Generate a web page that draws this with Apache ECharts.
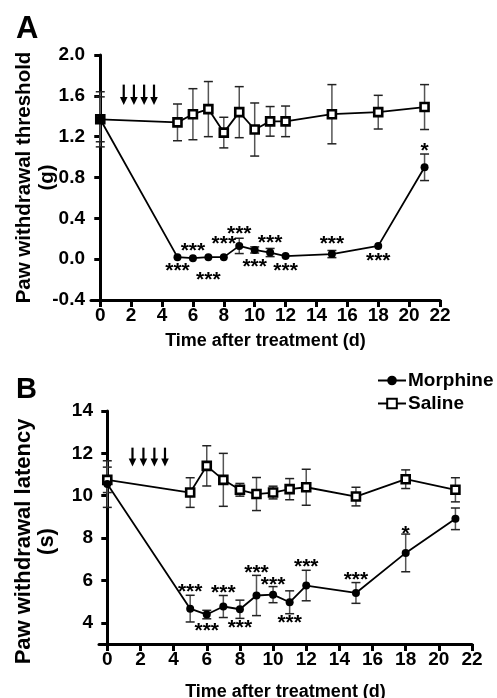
<!DOCTYPE html>
<html>
<head>
<meta charset="utf-8">
<script src="https://cdn.jsdelivr.net/npm/echarts@6/dist/echarts.min.js"></script>
<style>
html,body{margin:0;padding:0;background:#fff;}
#chart{width:497px;height:698px;}
</style>
</head>
<body>
<div id="chart"></div>
<script>
// ---------- data ----------
const days = [0, 5, 6, 7, 8, 9, 10, 11, 12, 15, 18, 21];
const xTicks = [0, 2, 4, 6, 8, 10, 12, 14, 16, 18, 20, 22];

// Panel A: paw withdrawal threshold (g)
const salineA = [1.37, 1.34, 1.42, 1.47, 1.24, 1.44, 1.27, 1.35, 1.35, 1.42, 1.44, 1.49];
const salineAErr = [0.27, 0.18, 0.25, 0.27, 0.15, 0.25, 0.26, 0.145, 0.15, 0.29, 0.165, 0.22];
const morphineA = [1.37, 0.02, 0.01, 0.02, 0.02, 0.13, 0.09, 0.065, 0.03, 0.05, 0.13, 0.90];
const morphineAErr = [0.22, 0, 0, 0, 0, 0.075, 0.03, 0.04, 0, 0.035, 0, 0.13];

// Panel A significance marks (day, text, value where the mark sits)
const starDaysA = [5, 6, 7, 8, 9, 10, 11, 12, 15, 18, 21];
const starTextA = ['***', '***', '***', '***', '***', '***', '***', '***', '***', '***', '*'];
const starValA = [-0.075, 0.12, -0.17, 0.19, 0.28, -0.04, 0.20, -0.075, 0.19, 0.02, 1.10];

// Panel B: paw withdrawal latency (s)
const salineB = [10.75, 10.15, 11.41, 10.75, 10.28, 10.08, 10.15, 10.31, 10.40, 9.96, 10.78, 10.28];
const salineBErr = [0.6, 0.7, 0.95, 1.25, 0.3, 0.78, 0.3, 0.5, 0.85, 0.44, 0.44, 0.57];
const morphineB = [10.55, 4.67, 4.39, 4.77, 4.64, 5.29, 5.33, 4.97, 5.76, 5.41, 7.30, 8.91];
const morphineBErr = [1.1, 0.63, 0.2, 0.52, 0.43, 0.95, 0.38, 0.54, 0.72, 0.49, 0.89, 0.51];
const yTicksB = [4, 6, 8, 10, 12, 14];

const starDaysB = [5, 6, 7, 8, 9, 10, 11, 12, 15, 18];
const starTextB = ['***', '***', '***', '***', '***', '***', '***', '***', '***', '*'];
const starValB = [5.65, 3.77, 5.57, 3.92, 6.51, 5.96, 4.16, 6.83, 6.2, 8.39];

// injection arrows (day positions, top value, tip value)
const arrowDays = [1.52, 2.18, 2.84, 3.48];
const arrowA = [1.71, 1.51];
const arrowB = [12.27, 11.38];

// ---------- chart ----------
const FONT = '"Liberation Sans", Arial, Helvetica, sans-serif';
const chart = echarts.init(document.getElementById('chart'), null, {renderer: 'canvas'});

function errRender(params, api) {
  const x = api.value(0), y = api.value(1), e = api.value(2);
  if (!e) return null;
  const t = api.coord([x, y + e]);
  const b = api.coord([x, y - e]);
  const w = 4.5;
  const st = {stroke: '#555', lineWidth: 1.5};
  return {type: 'group', children: [
    {type: 'line', shape: {x1: t[0], y1: t[1], x2: b[0], y2: b[1]}, style: st},
    {type: 'line', shape: {x1: t[0] - w, y1: t[1], x2: t[0] + w, y2: t[1]}, style: {stroke: '#222', lineWidth: 1.5}},
    {type: 'line', shape: {x1: b[0] - w, y1: b[1], x2: b[0] + w, y2: b[1]}, style: {stroke: '#222', lineWidth: 1.5}}
  ]};
}

function starRender(texts) {
  return function (params, api) {
    const p = api.coord([api.value(0), api.value(1)]);
    return {type: 'text', x: p[0], y: p[1] + 4, style: {
      text: texts[params.dataIndex], fill: '#000', font: 'bold 21px ' + FONT,
      align: 'center', verticalAlign: 'middle'}};
  };
}

function arrowRender(params, api) {
  const top = api.coord([api.value(0), api.value(1)]);
  const tip = api.coord([api.value(0), api.value(2)]);
  const hh = 8, hw = 3.8;
  return {type: 'group', children: [
    {type: 'line', shape: {x1: top[0], y1: top[1], x2: tip[0], y2: tip[1] - hh + 1}, style: {stroke: '#000', lineWidth: 2.2}},
    {type: 'polygon', shape: {points: [[tip[0] - hw, tip[1] - hh], [tip[0] + hw, tip[1] - hh], [tip[0], tip[1]]]}, style: {fill: '#000'}}
  ]};
}

function xAxisCfg(gi, min, gap) {
  return {
    type: 'value', gridIndex: gi, min: min, max: 22,
    name: 'Time after treatment (d)', nameLocation: 'middle', nameGap: gap, nameMoveOverlap: false,
    nameTextStyle: {fontFamily: FONT, fontWeight: 'bold', fontSize: 18, color: '#000'},
    axisLine: {onZero: false, lineStyle: {color: '#000', width: 3}},
    axisTick: {customValues: xTicks, length: 7, lineStyle: {color: '#000', width: 3}},
    axisLabel: {customValues: xTicks, fontFamily: FONT, fontWeight: 'bold', fontSize: 19, color: '#000', margin: 6},
    splitLine: {show: false}
  };
}

const option = {
  animation: false,
  backgroundColor: '#fff',
  title: [
    {text: 'A', left: 11, top: 9, textStyle: {fontFamily: FONT, fontWeight: 'bold', fontSize: 31, color: '#000'}},
    {text: 'B', left: 11, top: 370, textStyle: {fontFamily: FONT, fontWeight: 'bold', fontSize: 29, color: '#000'}}
  ],
  legend: {
    orient: 'vertical', left: 372, top: 366, itemWidth: 28, itemHeight: 12, itemGap: 4,
    data: ['Morphine', 'Saline'],
    textStyle: {fontFamily: FONT, fontWeight: 'bold', fontSize: 19, color: '#000', padding: [0, 0, 0, -3]}
  },
  grid: [
    {left: 91, top: 55, width: 349, height: 245, containLabel: false, outerBoundsMode: 'none'},
    {left: 99, top: 411, width: 373, height: 233, containLabel: false, outerBoundsMode: 'none'}
  ],
  xAxis: [xAxisCfg(0, -0.6, 32), xAxisCfg(1, -0.5, 39)],
  yAxis: [
    {
      type: 'value', gridIndex: 0, min: -0.4, max: 2.0, interval: 0.4,
      name: 'Paw withdrawal threshold\n(g)', nameLocation: 'middle', nameGap: 32, nameRotate: 90, nameMoveOverlap: false,
      nameTextStyle: {fontFamily: FONT, fontWeight: 'bold', fontSize: 20.5, color: '#000', lineHeight: 23},
      axisLine: {show: true, lineStyle: {color: '#000', width: 3}},
      axisTick: {show: true, length: 6, lineStyle: {color: '#000', width: 3}},
      axisLabel: {fontFamily: FONT, fontWeight: 'bold', fontSize: 19, color: '#000', margin: 6,
        formatter: v => v.toFixed(1)},
      splitLine: {show: false}
    },
    {
      type: 'value', gridIndex: 1, min: 3, max: 14,
      name: 'Paw withdrawal latency\n(s)', nameLocation: 'middle', nameGap: 41, nameRotate: 90, nameMoveOverlap: false,
      nameTextStyle: {fontFamily: FONT, fontWeight: 'bold', fontSize: 22, color: '#000', lineHeight: 23, padding: [0, 28, 0, 0]},
      axisLine: {show: true, lineStyle: {color: '#000', width: 3}},
      axisTick: {show: true, customValues: yTicksB, length: 6, lineStyle: {color: '#000', width: 3}},
      axisLabel: {customValues: yTicksB, fontFamily: FONT, fontWeight: 'bold', fontSize: 19, color: '#000', margin: 6},
      splitLine: {show: false}
    }
  ],
  series: [
    // error bars
    {type: 'custom', xAxisIndex: 0, yAxisIndex: 0, z: 1, renderItem: errRender,
      data: days.map((d, i) => [d, salineA[i], salineAErr[i]])},
    {type: 'custom', xAxisIndex: 0, yAxisIndex: 0, z: 1, renderItem: errRender,
      data: days.map((d, i) => [d, morphineA[i], morphineAErr[i]])},
    {type: 'custom', xAxisIndex: 1, yAxisIndex: 1, z: 1, renderItem: errRender,
      data: days.map((d, i) => [d, salineB[i], salineBErr[i]])},
    {type: 'custom', xAxisIndex: 1, yAxisIndex: 1, z: 1, renderItem: errRender,
      data: days.map((d, i) => [d, morphineB[i], morphineBErr[i]])},
    // lines
    {name: 'Saline', type: 'line', xAxisIndex: 0, yAxisIndex: 0, z: 3,
      data: days.map((d, i) => [d, salineA[i]]),
      symbol: 'rect', symbolSize: 8, showAllSymbol: true,
      lineStyle: {color: '#000', width: 1.8},
      itemStyle: {color: '#fff', borderColor: '#000', borderWidth: 2.6}},
    {name: 'Morphine', type: 'line', xAxisIndex: 0, yAxisIndex: 0, z: 4,
      data: days.map((d, i) => [d, morphineA[i]]),
      symbol: 'circle', symbolSize: 8, showAllSymbol: true,
      lineStyle: {color: '#000', width: 1.8},
      itemStyle: {color: '#000', borderColor: '#000', borderWidth: 0}},
    {name: 'Saline', type: 'line', xAxisIndex: 1, yAxisIndex: 1, z: 3,
      data: days.map((d, i) => [d, salineB[i]]),
      symbol: 'rect', symbolSize: 8, showAllSymbol: true,
      lineStyle: {color: '#000', width: 1.8},
      itemStyle: {color: '#fff', borderColor: '#000', borderWidth: 2.6}},
    {name: 'Morphine', type: 'line', xAxisIndex: 1, yAxisIndex: 1, z: 4,
      data: days.map((d, i) => [d, morphineB[i]]),
      symbol: 'circle', symbolSize: 8, showAllSymbol: true,
      lineStyle: {color: '#000', width: 1.8},
      itemStyle: {color: '#000', borderColor: '#000', borderWidth: 0}},
    // significance marks
    {type: 'custom', xAxisIndex: 0, yAxisIndex: 0, z: 5, renderItem: starRender(starTextA),
      data: starDaysA.map((d, i) => [d, starValA[i]])},
    {type: 'custom', xAxisIndex: 1, yAxisIndex: 1, z: 5, renderItem: starRender(starTextB),
      data: starDaysB.map((d, i) => [d, starValB[i]])},
    // arrows
    {type: 'custom', xAxisIndex: 0, yAxisIndex: 0, z: 5, renderItem: arrowRender,
      data: arrowDays.map(d => [d, arrowA[0], arrowA[1]])},
    {type: 'custom', xAxisIndex: 1, yAxisIndex: 1, z: 5, renderItem: arrowRender,
      data: arrowDays.map(d => [d, arrowB[0], arrowB[1]])}
  ]
};
chart.setOption(option);
</script>
</body>
</html>
